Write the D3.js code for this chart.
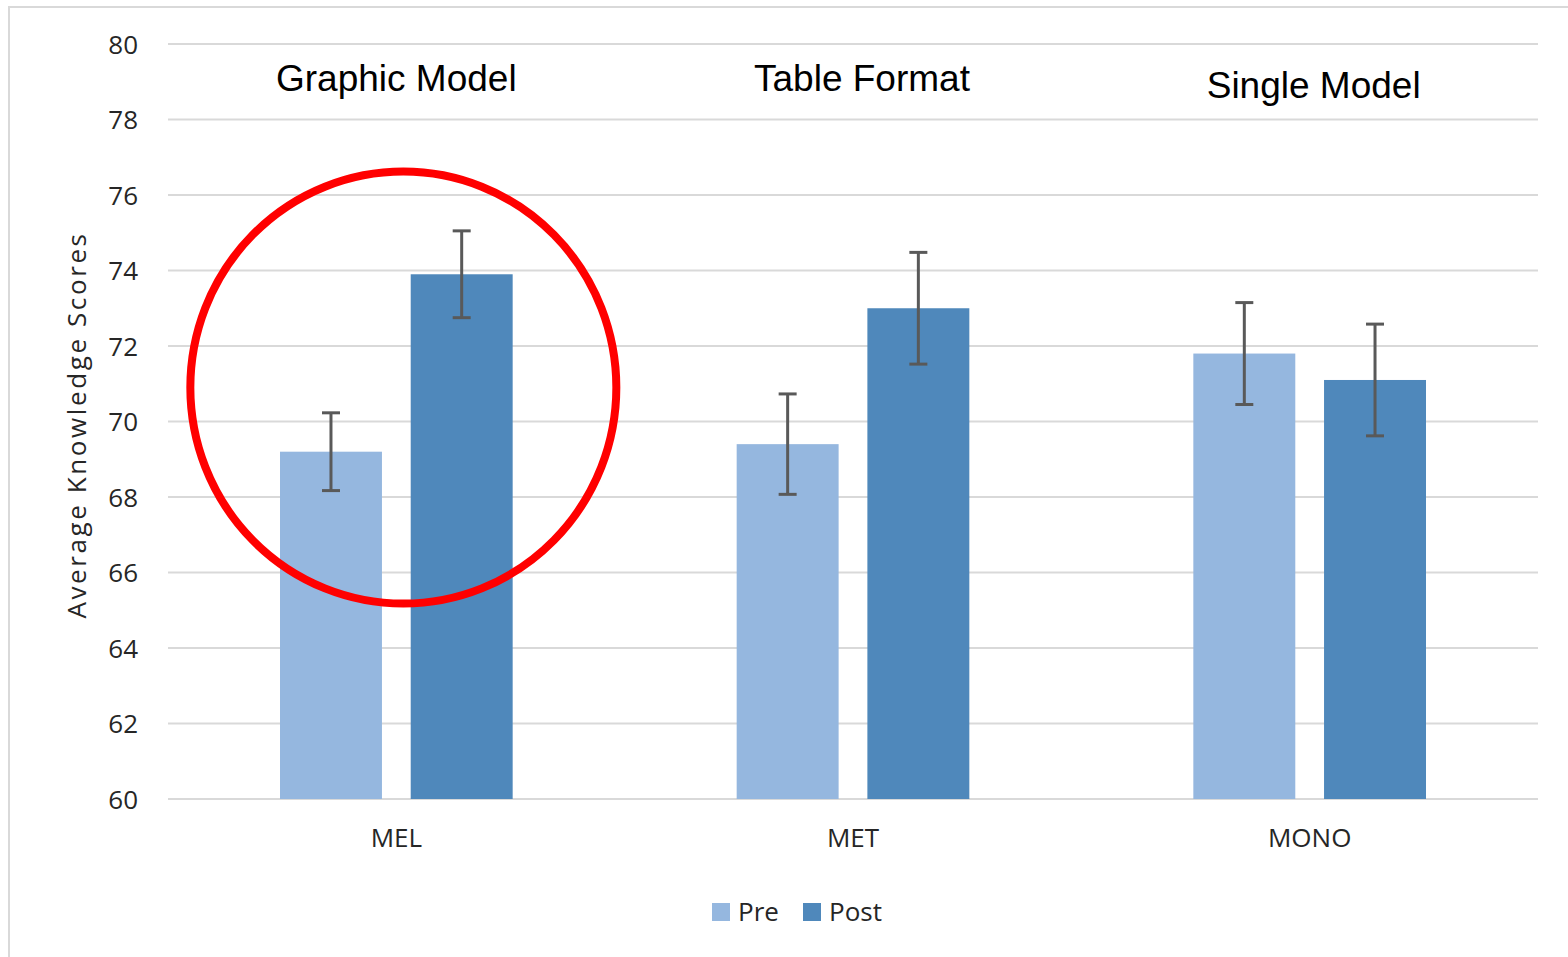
<!DOCTYPE html>
<html>
<head>
    <title>Average Knowledge Scores</title>
    <script src="https://d3js.org/d3.v7.min.js"></script>
    <style>
        body {
            margin: 0;
            background: #fff;
        }

        .grid line {
            stroke: #d9d9d9;
            stroke-width: 2;
        }

        .axis path,
        .axis line {
            display: none;
        }

        .axis text {
            font-family: "Open Sans", "DejaVu Sans", sans-serif;
            font-size: 26px;
            fill: #262626;
        }

        .title {
            font-family: "Liberation Sans", Arial, sans-serif;
            font-size: 37px;
            fill: #000;
        }

        .ylabel {
            font-family: "Open Sans", sans-serif;
            font-size: 26px;
            letter-spacing: 2.6px;
            fill: #262626;
        }

        .legend text {
            font-family: "Open Sans", sans-serif;
            font-size: 26px;
            fill: #262626;
        }
    </style>
</head>
<body>
    <div id="chart"></div>

    <script>
        // Chart data
        const categories = ["MEL", "MET", "MONO"];
        const series = ["Pre", "Post"];
        const preValues = [69.2, 69.4, 71.8];
        const postValues = [73.9, 73.0, 71.1];
        const preErrors = [1.03, 1.33, 1.35];
        const postErrors = [1.15, 1.48, 1.48];
        const groupTitles = ["Graphic Model", "Table Format", "Single Model"];
        const yTicks = [60, 62, 64, 66, 68, 70, 72, 74, 76, 78, 80];

        const colors = { Pre: "#95b7df", Post: "#4f88bb" };

        const width = 1568;
        const height = 957;
        const margin = {top: 44, right: 30, bottom: 158, left: 168};
        const innerWidth = width - margin.left - margin.right;
        const innerHeight = height - margin.top - margin.bottom;

        const rows = categories.map((c, i) => ({
            cat: c,
            values: [
                { key: "Pre", value: preValues[i], err: preErrors[i] },
                { key: "Post", value: postValues[i], err: postErrors[i] }
            ]
        }));

        const svg = d3.select("#chart")
            .append("svg")
            .attr("width", width)
            .attr("height", height);

        // outer frame
        svg.append("rect")
            .attr("x", 9)
            .attr("y", 7)
            .attr("width", width)
            .attr("height", height)
            .attr("fill", "none")
            .attr("stroke", "#d9d9d9")
            .attr("stroke-width", 2);

        const g = svg.append("g")
            .attr("transform", `translate(${margin.left},${margin.top})`);

        const x0 = d3.scaleBand()
            .domain(categories)
            .range([0, innerWidth])
            .paddingInner(0)
            .paddingOuter(0);

        const x1 = d3.scaleBand()
            .domain(series)
            .range([112, x0.bandwidth() - 112])
            .paddingInner(0.22);

        const y = d3.scaleLinear()
            .domain([60, 80])
            .range([innerHeight, 0]);

        // gridlines
        g.append("g")
            .attr("class", "grid")
            .selectAll("line")
            .data(yTicks)
            .enter()
            .append("line")
            .attr("x1", 0)
            .attr("x2", innerWidth)
            .attr("y1", d => y(d))
            .attr("y2", d => y(d));

        // y axis
        g.append("g")
            .attr("class", "axis")
            .attr("transform", "translate(-30,0)")
            .call(d3.axisLeft(y).tickValues(yTicks).tickSize(0).tickPadding(0))
            .selectAll("text")
            .attr("dy", "0.35em");

        // x axis
        g.append("g")
            .attr("class", "axis")
            .attr("transform", `translate(0,${innerHeight})`)
            .call(d3.axisBottom(x0).tickSize(0).tickPadding(30));

        // bars
        const groups = g.selectAll(".group")
            .data(rows)
            .enter()
            .append("g")
            .attr("transform", d => `translate(${x0(d.cat)},0)`);

        groups.selectAll("rect")
            .data(d => d.values)
            .enter()
            .append("rect")
            .attr("x", d => x1(d.key))
            .attr("width", x1.bandwidth())
            .attr("y", d => y(d.value))
            .attr("height", d => innerHeight - y(d.value))
            .attr("fill", d => colors[d.key]);

        // error bars
        const eb = groups.selectAll(".err")
            .data(d => d.values)
            .enter()
            .append("g")
            .attr("stroke", "#595959")
            .attr("stroke-width", 3);

        const cx = d => x1(d.key) + x1.bandwidth() / 2;
        eb.append("line")
            .attr("x1", cx).attr("x2", cx)
            .attr("y1", d => y(d.value + d.err))
            .attr("y2", d => y(d.value - d.err));
        eb.append("line")
            .attr("x1", d => cx(d) - 9).attr("x2", d => cx(d) + 9)
            .attr("y1", d => y(d.value + d.err))
            .attr("y2", d => y(d.value + d.err));
        eb.append("line")
            .attr("x1", d => cx(d) - 9).attr("x2", d => cx(d) + 9)
            .attr("y1", d => y(d.value - d.err))
            .attr("y2", d => y(d.value - d.err));

        // group titles
        const titleShift = [0, 9, 4];
        const titleY = [79.1, 79.1, 78.9];
        g.selectAll(".title")
            .data(groupTitles)
            .enter()
            .append("text")
            .attr("class", "title")
            .attr("text-anchor", "middle")
            .attr("x", (d, i) => x0(categories[i]) + x0.bandwidth() / 2 + titleShift[i])
            .attr("y", (d, i) => y(titleY[i]))
            .attr("dy", "0.35em")
            .text(d => d);

        // y label
        svg.append("text")
            .attr("class", "ylabel")
            .attr("transform", "translate(86,425) rotate(-90)")
            .attr("text-anchor", "middle")
            .text("Average Knowledge Scores");

        // red circle highlight on first group
        g.append("ellipse")
            .attr("cx", x0("MEL") + x0.bandwidth() / 2 + 7)
            .attr("cy", y(70.9))
            .attr("rx", 213)
            .attr("ry", 216)
            .attr("fill", "none")
            .attr("stroke", "#ff0000")
            .attr("stroke-width", 8);

        // legend
        const legend = svg.append("g")
            .attr("class", "legend")
            .attr("transform", "translate(712,903)");
        const li = legend.selectAll("g")
            .data(series)
            .enter()
            .append("g")
            .attr("transform", (d, i) => `translate(${i * 91},0)`);
        li.append("rect")
            .attr("width", 18)
            .attr("height", 18)
            .attr("fill", d => colors[d]);
        li.append("text")
            .attr("x", 26)
            .attr("y", 9)
            .attr("dy", "0.35em")
            .text(d => d);
    </script>
</body>
</html>
